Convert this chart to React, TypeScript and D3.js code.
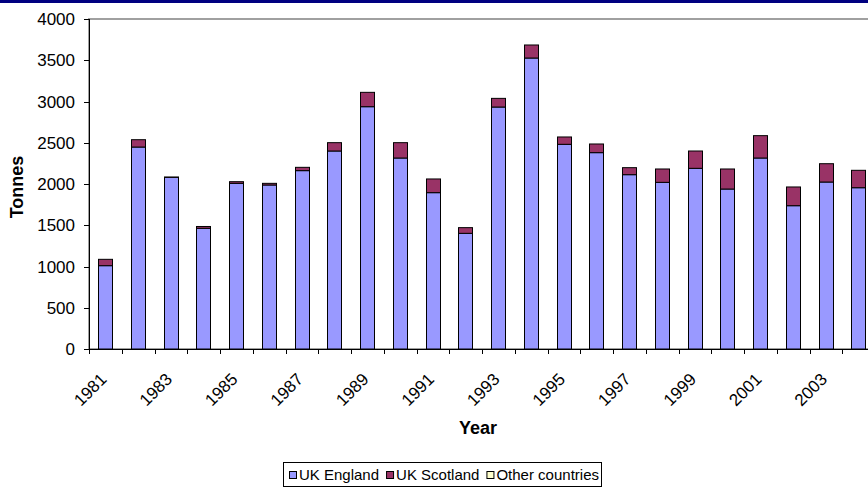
import React from "react";
import * as d3 from "d3";

// Annual tonnage by origin, 1981–2004
const years: string[] = [
  "1981", "1982", "1983", "1984", "1985", "1986", "1987", "1988",
  "1989", "1990", "1991", "1992", "1993", "1994", "1995", "1996",
  "1997", "1998", "1999", "2000", "2001", "2002", "2003", "2004",
];
const ukEngland: number[] = [
  1010, 2448, 2081, 1463, 2008, 1988, 2162, 2400, 2937, 2315, 1895, 1402,
  2933, 3527, 2481, 2380, 2113, 2020, 2190, 1939, 2315, 1737, 2024, 1955,
];
const ukScotland: number[] = [
  77, 89, 3, 22, 20, 20, 40, 101, 174, 186, 166, 69,
  105, 158, 89, 105, 85, 162, 210, 243, 271, 227, 222, 211,
];
const otherCountries: number[] = [
  0, 0, 0, 0, 0, 0, 0, 0, 0, 0, 0, 0,
  0, 0, 0, 0, 0, 0, 0, 0, 0, 0, 0, 0,
];
const seriesNames: string[] = ["UK England", "UK Scotland", "Other countries"];
const seriesColors: string[] = ["#9999FF", "#993366", "#FFFFCC"];
const yTicks: number[] = [0, 500, 1000, 1500, 2000, 2500, 3000, 3500, 4000];

const FONT = "'Liberation Sans', Arial, sans-serif";

function textWidth(text: string, font: string): number {
  const ctx = document.createElement("canvas").getContext("2d");
  if (!ctx) return text.length * 8;
  ctx.font = font;
  return ctx.measureText(text).width;
}

export default function App() {
  const W = 868;
  const H = 488;
  const plot = { left: 89, top: 19, right: 875, bottom: 349 };

  const x = d3.scaleBand<string>().domain(years).range([plot.left, plot.right]);
  const y = d3.scaleLinear().domain([0, 4000]).range([plot.bottom, plot.top]);

  const rows = years.map((yr, i) => ({
    year: yr,
    "UK England": ukEngland[i],
    "UK Scotland": ukScotland[i],
    "Other countries": otherCountries[i],
  }));
  const stacked = d3.stack<any>().keys(seriesNames)(rows);

  const bw = x.bandwidth();
  const barW = bw * 0.44;

  // legend layout
  const legendFontSize = 15;
  const legendFont = `${legendFontSize}px 'Liberation Sans', Arial, sans-serif`;
  const legendBox = { x: 283, y: 462, w: 318, h: 24 };
  let cursor = legendBox.x + 6;
  const legendItems = seriesNames.map((name, i) => {
    const item = { name, color: seriesColors[i], mx: cursor, tx: cursor + 10 };
    cursor = item.tx + textWidth(name, legendFont) + 7;
    return item;
  });

  return (
    <svg
      width={W}
      height={H}
      style={{ position: "absolute", left: 0, top: 0, background: "#fff" }}
      fontFamily={FONT}
    >
      <rect x={0} y={0} width={W} height={3} fill="#000080" />

      {/* plot area frame */}
      <rect
        x={plot.left}
        y={plot.top}
        width={plot.right - plot.left}
        height={plot.bottom - plot.top}
        fill="none"
        stroke="#a0a0a0"
        strokeWidth={2}
      />

      {/* stacked bars */}
      {stacked.map((layer, si) => (
        <g key={seriesNames[si]} fill={seriesColors[si]} stroke="#000" strokeWidth={1}>
          {layer.map((d, i) => {
            const h = y(d[0]) - y(d[1]);
            if (h <= 0) return null;
            const cx = (x(years[i]) as number) + bw / 2;
            return (
              <rect
                key={years[i]}
                x={Math.round(cx - barW / 2) + 0.5}
                y={y(d[1])}
                width={Math.round(barW)}
                height={h}
              />
            );
          })}
        </g>
      ))}

      {/* y axis */}
      <line x1={plot.left + 0.5} x2={plot.left + 0.5} y1={plot.top} y2={plot.bottom} stroke="#000" />
      {yTicks.map((t) => (
        <g key={t}>
          <line x1={plot.left - 5} x2={plot.left} y1={Math.round(y(t)) + 0.5} y2={Math.round(y(t)) + 0.5} stroke="#000" />
          <text x={75} y={y(t)} dy="0.36em" textAnchor="end" fontSize={17} fill="#000">
            {t}
          </text>
        </g>
      ))}

      {/* x axis */}
      <line x1={plot.left} x2={plot.right} y1={plot.bottom + 0.5} y2={plot.bottom + 0.5} stroke="#000" />
      {years.map((yr) => {
        const tx = Math.round(x(yr) as number) + 0.5;
        return <line key={"t" + yr} x1={tx} x2={tx} y1={plot.bottom} y2={plot.bottom + 5} stroke="#000" />;
      })}
      {years.map((yr, i) => {
        if (i % 2 !== 0) return null;
        const cx = (x(yr) as number) + bw / 2 - 2;
        const ty = 376;
        return (
          <text
            key={"l" + yr}
            transform={`translate(${cx},${ty}) rotate(-45)`}
            textAnchor="end"
            dy="0.36em"
            fontSize={17}
            fill="#000"
          >
            {yr}
          </text>
        );
      })}

      {/* axis titles */}
      <text x={478} y={434} textAnchor="middle" fontSize={18} fontWeight="bold">
        Year
      </text>
      <text transform={`translate(23,${(plot.top + plot.bottom) / 2 + 3}) rotate(-90)`} textAnchor="middle" fontSize={18} fontWeight="bold">
        Tonnes
      </text>

      {/* legend */}
      <rect x={legendBox.x + 0.5} y={legendBox.y + 0.5} width={legendBox.w} height={legendBox.h} fill="#fff" stroke="#000" />
      {legendItems.map((it) => (
        <g key={it.name}>
          <rect x={it.mx + 0.5} y={legendBox.y + 9.5} width={7} height={7} fill={it.color} stroke="#000" />
          <text x={it.tx} y={legendBox.y + 13} dy="0.36em" fontSize={legendFontSize}>
            {it.name}
          </text>
        </g>
      ))}
    </svg>
  );
}
